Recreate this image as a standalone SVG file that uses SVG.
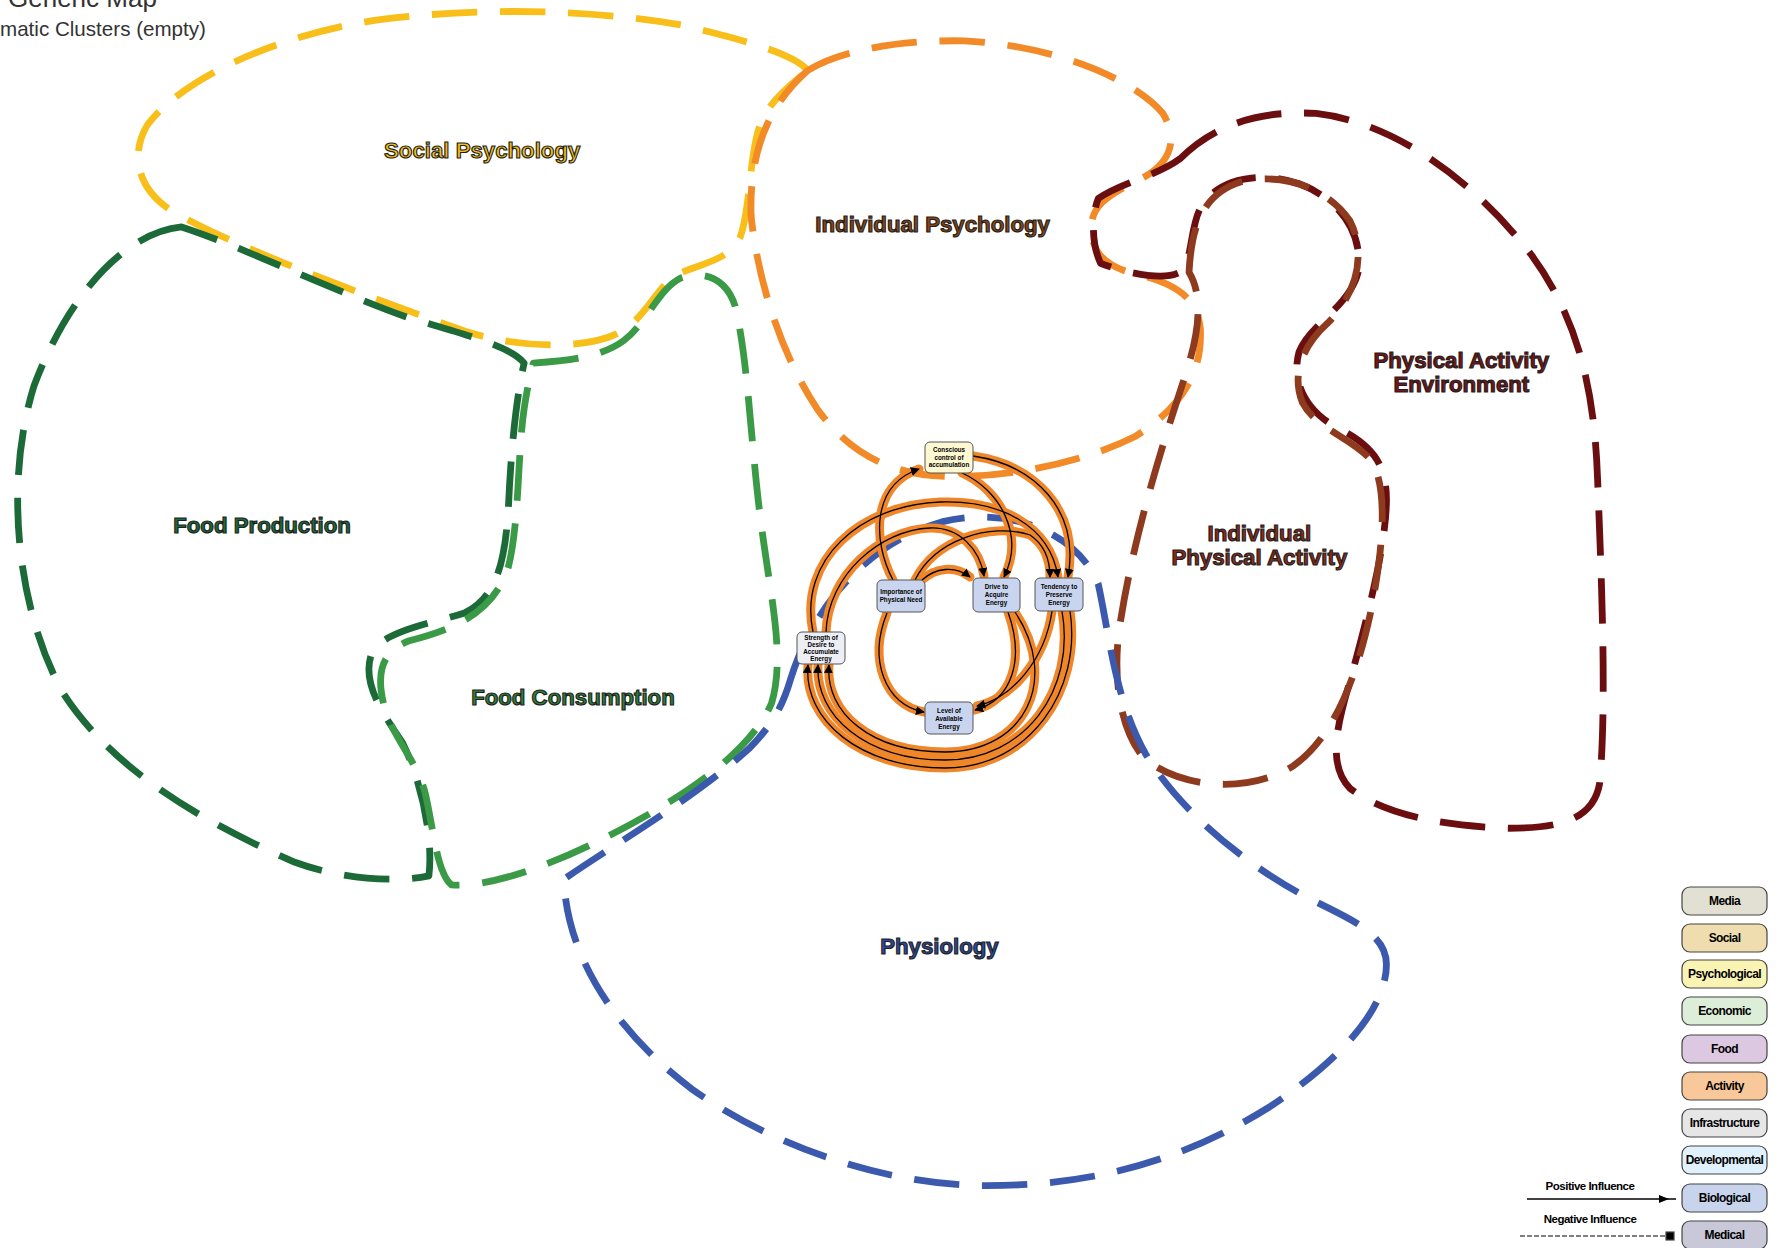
<svg xmlns="http://www.w3.org/2000/svg" width="1779" height="1248" viewBox="0 0 1779 1248">
<style>
.bg{fill:#ffffff}
.title{font-family:"Liberation Sans",Arial,sans-serif;fill:#333333}
.cl{fill:none;stroke-width:6;stroke-dasharray:40 20;stroke-linejoin:round;stroke-linecap:butt}
.cllab{font-family:"Liberation Sans",Arial,sans-serif;font-weight:bold;font-size:19.6px;text-anchor:middle;dominant-baseline:central;stroke:#1e1e1e;stroke-width:1}
.halo{fill:none;stroke:#F0862A;stroke-width:9;stroke-linecap:round}
.ln{fill:none;stroke:#000;stroke-width:1.3;marker-end:url(#arr)}
.node rect{stroke:#555;stroke-width:1}
.nt{font-family:"Liberation Sans",Arial,sans-serif;font-weight:bold;font-size:6.3px;text-anchor:middle;fill:#000}
.lg rect{stroke:#444;stroke-width:1.2}
.lt{font-family:"Liberation Sans",Arial,sans-serif;font-weight:bold;font-size:12px;text-anchor:middle;dominant-baseline:central;fill:#000;letter-spacing:-0.6px}
.il{font-family:"Liberation Sans",Arial,sans-serif;font-weight:bold;font-size:11.5px;text-anchor:middle;fill:#000;letter-spacing:-0.5px}
</style>
<defs>
<marker id="arr" viewBox="0 0 10 10" refX="9" refY="5" markerWidth="9" markerHeight="9" markerUnits="userSpaceOnUse" orient="auto"><path d="M0,0 L10,5 L0,10 Z" fill="#000"/></marker>
</defs>
<rect class="bg" x="0" y="0" width="1779" height="1248"/>
<g id="title">
<text class="title" x="8" y="7" font-size="26">Generic Map</text>
<text class="title" x="-35.5" y="36" font-size="20.6">Thematic Clusters (empty)</text>
</g>
<g id="clusters" transform="scale(1.13457)">
<g id="cluster-social-psychology">
<path class="cl" stroke="#F8BE1A" d="M 712,62 C 700,48 660,36 600,22 C 520,8 420,6 330,18 C 240,32 160,70 130,110 C 115,135 120,165 150,185 C 200,215 320,260 410,292 C 460,308 520,308 548,292 C 570,278 578,255 595,243 C 615,232 640,232 652,210 C 662,185 660,130 672,105 C 682,85 700,72 712,62 Z"/>
<text class="cllab" x="425" y="133" fill="#F6BE17">Social Psychology</text>
</g>
<g id="cluster-individual-psychology">
<path class="cl" stroke="#F28A28" d="M 712,62 C 740,45 790,35 850,36 C 930,40 1000,70 1025,100 C 1040,125 1030,145 1005,158 C 980,170 962,180 962,200 C 962,220 970,232 995,240 C 1030,248 1055,258 1058,290 C 1060,330 1040,360 1000,385 C 960,405 900,420 840,420 C 780,420 745,395 720,360 C 690,315 668,250 662,190 C 660,130 680,90 712,62 Z"/>
<text class="cllab" x="822" y="198" fill="#8A4510">Individual Psychology</text>
</g>
<g id="cluster-physical-activity-environment">
<path class="cl" stroke="#6A0E10" d="M 1040,140 C 1070,110 1110,97 1160,100 C 1230,108 1300,160 1350,225 C 1390,280 1405,340 1408,420 C 1412,520 1416,620 1410,690 C 1405,720 1380,730 1330,730 C 1270,728 1220,718 1190,695 C 1170,675 1178,640 1190,600 C 1205,545 1222,480 1222,440 C 1222,400 1200,388 1175,375 C 1150,360 1138,335 1145,310 C 1155,285 1190,270 1197,240 C 1202,205 1180,175 1145,162 C 1110,150 1075,158 1060,180 C 1048,198 1052,230 1040,240 C 1025,248 990,240 970,232 C 962,215 962,190 968,175 C 985,162 1020,155 1040,140 Z"/>
<text class="cllab" x="1288" y="318" fill="#7A1414">Physical Activity</text>
<text class="cllab" x="1288" y="339" fill="#7A1414">Environment</text>
</g>
<g id="cluster-individual-physical-activity">
<path class="cl" stroke="#8E3A1E" d="M 1048,240 C 1050,200 1060,170 1095,160 C 1130,152 1170,165 1190,195 C 1205,225 1195,260 1170,285 C 1148,305 1138,330 1148,355 C 1160,378 1190,385 1208,405 C 1225,430 1218,490 1208,540 C 1195,600 1175,650 1140,675 C 1100,700 1040,695 1008,668 C 985,640 980,590 988,545 C 1000,470 1025,390 1045,330 C 1058,290 1060,260 1048,240 Z"/>
<text class="cllab" x="1110" y="470" fill="#8A2A18">Individual</text>
<text class="cllab" x="1110" y="491" fill="#8A2A18">Physical Activity</text>
</g>
<g id="cluster-food-production">
<path class="cl" stroke="#1C6A38" d="M 160,200 C 110,205 60,260 30,340 C 5,420 12,530 55,610 C 100,680 180,725 260,760 C 300,775 350,778 378,772 C 382,740 372,690 355,655 C 335,625 318,600 328,575 C 340,555 380,550 410,540 C 440,525 445,490 448,450 C 450,400 455,350 462,320 C 450,305 410,295 360,280 C 290,255 215,218 160,200 Z"/>
<text class="cllab" x="231" y="463" fill="#1C6A38">Food Production</text>
</g>
<g id="cluster-food-consumption">
<path class="cl" stroke="#3A9A46" d="M 470,320 C 500,318 530,315 550,300 C 570,285 580,255 600,245 C 620,238 640,245 648,270 C 660,320 662,400 672,470 C 680,530 692,580 680,620 C 660,665 600,705 530,740 C 480,765 430,782 398,780 C 385,770 382,730 375,700 C 368,670 345,650 338,620 C 332,595 335,575 360,565 C 400,555 435,540 448,500 C 458,460 456,400 462,360 C 465,340 468,328 470,320 Z"/>
<text class="cllab" x="505" y="615" fill="#2E7E38">Food Consumption</text>
</g>
<g id="cluster-physiology">
<path class="cl" stroke="#3B59AD" d="M 697,598 C 715,540 760,480 830,460 C 890,445 950,470 968,515 C 978,560 982,615 1010,665 C 1040,715 1100,765 1160,795 C 1195,812 1222,825 1222,850 C 1222,890 1180,935 1120,975 C 1040,1025 960,1045 870,1045 C 780,1045 680,1010 610,960 C 550,915 500,850 497,775 C 540,745 610,705 660,660 C 685,635 692,615 697,598 Z"/>
<text class="cllab" x="828" y="834" fill="#2E4A9A">Physiology</text>
</g>
</g>
<g id="connectors">
<g id="halos">
<path class="halo" d="M 893,580 C 872,540 872,485 919,469"/>
<path class="halo" d="M 962,473 C 1000,490 1025,535 1004,577"/>
<path class="halo" d="M 973,456 C 1035,465 1080,510 1068,577"/>
<path class="halo" d="M 813,632 C 798,560 860,505 940,502 C 1000,500 1050,525 1058,577"/>
<path class="halo" d="M 826,632 C 828,575 880,530 930,528 C 960,527 980,550 984,576"/>
<path class="halo" d="M 915,580 C 935,540 990,522 1030,535 C 1045,545 1050,560 1050,577"/>
<path class="halo" d="M 922,580 C 935,568 955,565 970,577"/>
<path class="halo" d="M 887,613 C 868,660 885,705 924,712"/>
<path class="halo" d="M 1008,612 C 1025,660 1012,700 975,710"/>
<path class="halo" d="M 1052,611 C 1045,660 1012,698 977,706"/>
<path class="halo" d="M 1070,611 C 1082,690 1030,768 945,768 C 860,768 803,720 808,665"/>
<path class="halo" d="M 1062,611 C 1076,690 1025,760 945,760 C 865,760 815,715 818,665"/>
<path class="halo" d="M 1015,612 C 1060,680 1025,752 945,752 C 870,752 825,712 829,665"/>
</g>
<g id="lines">
<path class="ln" d="M 893,580 C 872,540 872,485 919,469"/>
<path class="ln" d="M 962,473 C 1000,490 1025,535 1004,577"/>
<path class="ln" d="M 973,456 C 1035,465 1080,510 1068,577"/>
<path class="ln" d="M 813,632 C 798,560 860,505 940,502 C 1000,500 1050,525 1058,577"/>
<path class="ln" d="M 826,632 C 828,575 880,530 930,528 C 960,527 980,550 984,576"/>
<path class="ln" d="M 915,580 C 935,540 990,522 1030,535 C 1045,545 1050,560 1050,577"/>
<path class="ln" d="M 922,580 C 935,568 955,565 970,577"/>
<path class="ln" d="M 887,613 C 868,660 885,705 924,712"/>
<path class="ln" d="M 1008,612 C 1025,660 1012,700 975,710"/>
<path class="ln" d="M 1052,611 C 1045,660 1012,698 977,706"/>
<path class="ln" d="M 1070,611 C 1082,690 1030,768 945,768 C 860,768 803,720 808,665"/>
<path class="ln" d="M 1062,611 C 1076,690 1025,760 945,760 C 865,760 815,715 818,665"/>
<path class="ln" d="M 1015,612 C 1060,680 1025,752 945,752 C 870,752 825,712 829,665"/>
</g>
</g>
<g id="node-conscious-control" class="node">
<rect x="925" y="442" width="48" height="31" rx="5" fill="#FDF7D2"/>
<text class="nt" x="949" y="452">Conscious</text>
<text class="nt" x="949" y="459.5">control of</text>
<text class="nt" x="949" y="467">accumulation</text>
</g>
<g id="node-importance" class="node">
<rect x="877" y="580" width="48" height="32" rx="5" fill="#C9D5EE"/>
<text class="nt" x="901" y="594">Importance of</text>
<text class="nt" x="901" y="602">Physical Need</text>
</g>
<g id="node-drive" class="node">
<rect x="973" y="578" width="47" height="34" rx="5" fill="#C9D5EE"/>
<text class="nt" x="996.5" y="589">Drive to</text>
<text class="nt" x="996.5" y="597">Acquire</text>
<text class="nt" x="996.5" y="605">Energy</text>
</g>
<g id="node-tendency" class="node">
<rect x="1035" y="578" width="48" height="33" rx="5" fill="#C9D5EE"/>
<text class="nt" x="1059" y="589">Tendency to</text>
<text class="nt" x="1059" y="597">Preserve</text>
<text class="nt" x="1059" y="605">Energy</text>
</g>
<g id="node-strength" class="node">
<rect x="797" y="632" width="48" height="32" rx="5" fill="#EEEEF5"/>
<text class="nt" x="821" y="640">Strength of</text>
<text class="nt" x="821" y="647">Desire to</text>
<text class="nt" x="821" y="654">Accumulate</text>
<text class="nt" x="821" y="661">Energy</text>
</g>
<g id="node-level" class="node">
<rect x="925" y="702" width="48" height="32" rx="5" fill="#C9D5EE"/>
<text class="nt" x="949" y="713">Level of</text>
<text class="nt" x="949" y="721">Available</text>
<text class="nt" x="949" y="729">Energy</text>
</g>
<g id="legend" class="lg">
<g id="legend-media"><rect x="1682" y="887" width="85" height="28" rx="8" fill="#E2E0D2"/><text class="lt" x="1724.5" y="901">Media</text></g>
<g id="legend-social"><rect x="1682" y="924" width="85" height="28" rx="8" fill="#EFDDB0"/><text class="lt" x="1724.5" y="938">Social</text></g>
<g id="legend-psychological"><rect x="1682" y="960" width="85" height="28" rx="8" fill="#FAF4B4"/><text class="lt" x="1724.5" y="974">Psychological</text></g>
<g id="legend-economic"><rect x="1682" y="997" width="85" height="28" rx="8" fill="#DDEED8"/><text class="lt" x="1724.5" y="1011">Economic</text></g>
<g id="legend-food"><rect x="1682" y="1035" width="85" height="28" rx="8" fill="#DCC8E0"/><text class="lt" x="1724.5" y="1049">Food</text></g>
<g id="legend-activity"><rect x="1682" y="1072" width="85" height="28" rx="8" fill="#F9C89A"/><text class="lt" x="1724.5" y="1086">Activity</text></g>
<g id="legend-infrastructure"><rect x="1682" y="1109" width="85" height="28" rx="8" fill="#E6E6E6"/><text class="lt" x="1724.5" y="1123">Infrastructure</text></g>
<g id="legend-developmental"><rect x="1682" y="1146" width="85" height="28" rx="8" fill="#E0F0FC"/><text class="lt" x="1724.5" y="1160">Developmental</text></g>
<g id="legend-biological"><rect x="1682" y="1184" width="85" height="28" rx="8" fill="#C8D4EC"/><text class="lt" x="1724.5" y="1198">Biological</text></g>
<g id="legend-medical"><rect x="1682" y="1221" width="85" height="28" rx="8" fill="#C8C8D8"/><text class="lt" x="1724.5" y="1235">Medical</text></g>
<g id="legend-positive">
<text class="il" x="1590" y="1190">Positive Influence</text>
<line x1="1527" y1="1199" x2="1676" y2="1199" stroke="#000" stroke-width="1.3"/>
<path d="M1659,1195 L1669,1199 L1659,1203 Z" fill="#000"/>
</g>
<g id="legend-negative">
<text class="il" x="1590" y="1223">Negative Influence</text>
<line x1="1520" y1="1236" x2="1666" y2="1236" stroke="#000" stroke-width="1.2" stroke-dasharray="5 2"/>
<rect x="1666" y="1232" width="8" height="8" fill="#000" stroke="none"/>
</g>
</g>
</svg>
